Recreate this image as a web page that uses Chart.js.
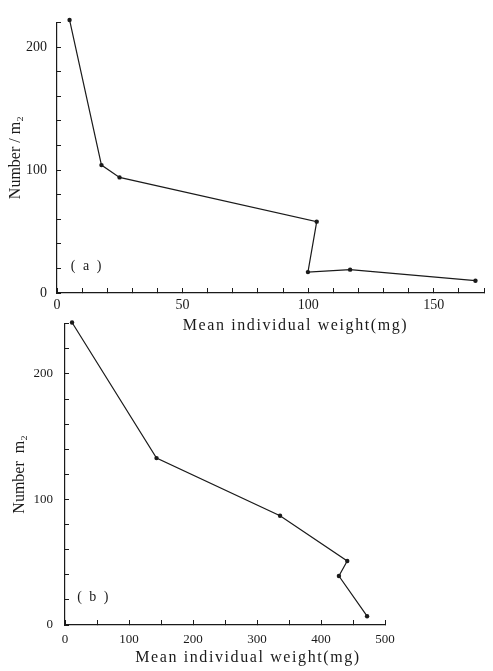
<!DOCTYPE html>
<html>
<head>
<meta charset="utf-8">
<script src="https://cdn.jsdelivr.net/npm/chart.js@4.4.1/dist/chart.umd.min.js"></script>
<style>
  html, body { margin: 0; padding: 0; background: #fff; }
  #wrap { position: relative; width: 493px; height: 671px; overflow: hidden; }
  canvas { position: absolute; left: 0; }
  #chartA { top: 0; }
  #chartB { top: 300px; }
</style>
</head>
<body>
<div id="wrap">
  <canvas id="chartA" width="493" height="340"></canvas>
  <canvas id="chartB" width="493" height="371"></canvas>
</div>
<script>
// panel (a)
const weightA = [5, 17.7, 24.9, 103.4, 99.9, 116.7, 166.6];
const numberA = [222, 104, 94, 58, 17, 19, 10];

// panel (b)
const weightB = [11, 143, 336, 441, 428, 472];
const numberB = [241, 133, 87, 51, 39, 7];

const xTitle = 'Mean individual weight(mg)';
const ink = '#1a1a1a';
const serif = 'Liberation Serif';

// draws the "(a)" / "(b)" note and the x axis title (spaced out like the print)
const panelText = {
    id: 'panelText',
    afterDraw(chart, args, opts) {
        const ctx = chart.ctx;
        const area = chart.chartArea;
        ctx.save();
        ctx.fillStyle = ink;
        ctx.textAlign = 'center';
        ctx.textBaseline = 'middle';
        ctx.font = '14px "' + serif + '"';
        ctx.letterSpacing = '2px';
        ctx.fillText(opts.tag, chart.scales.x.getPixelForValue(opts.tagX), chart.scales.y.getPixelForValue(opts.tagY));
        ctx.font = '16px "' + serif + '"';
        ctx.letterSpacing = '1.6px';
        ctx.fillText(xTitle, (area.left + area.right) / 2 + opts.shift, area.bottom + 33);
        ctx.restore();
    }
};

function createChart(canvasId, xValues, yValues, cfg) {
    const ctx = document.getElementById(canvasId).getContext('2d');
    const points = xValues.map((x, i) => ({ x: x, y: yValues[i] }));

    return new Chart(ctx, {
        type: 'scatter',
        data: {
            datasets: [{
                data: points,
                showLine: true,
                borderColor: ink,
                borderWidth: 1.2,
                pointRadius: 2.2,
                pointBackgroundColor: ink,
                pointBorderWidth: 0,
                clip: false
            }]
        },
        plugins: [panelText],
        options: {
            responsive: false,
            animation: false,
            layout: { padding: cfg.padding },
            plugins: {
                legend: { display: false },
                tooltip: { enabled: false },
                panelText: { tag: cfg.tag, tagX: cfg.tagX, tagY: cfg.tagY, shift: cfg.shift }
            },
            scales: {
                x: {
                    type: 'linear',
                    min: 0,
                    max: cfg.xMax,
                    afterFit: s => { s.height = cfg.xHeight; },
                    ticks: {
                        stepSize: cfg.xStep,
                        autoSkip: false,
                        maxRotation: 0,
                        padding: cfg.xPad,
                        color: ink,
                        font: { family: serif, size: cfg.tickSize },
                        callback: v => (v % cfg.xLabelEvery === 0 ? v : '')
                    },
                    grid: { drawOnChartArea: false, tickLength: -5, color: ink, lineWidth: 1 },
                    border: { color: ink, width: 1.2 }
                },
                y: {
                    min: 0,
                    max: cfg.yMax,
                    afterFit: s => { s.width = cfg.yWidth; },
                    ticks: {
                        stepSize: 20,
                        autoSkip: false,
                        padding: cfg.yPad,
                        color: ink,
                        font: { family: serif, size: cfg.tickSize },
                        callback: v => (v % 100 === 0 ? v : '')
                    },
                    grid: { drawOnChartArea: false, tickLength: -4, color: ink, lineWidth: 1 },
                    border: { color: ink, width: 1.2 },
                    title: {
                        display: true,
                        text: cfg.yTitle,
                        color: ink,
                        font: { family: serif, size: 16 },
                        padding: { top: cfg.yTitlePad, bottom: 0 }
                    }
                }
            }
        }
    });
}

createChart('chartA', weightA, numberA, {
    padding: { top: 13, right: 4, left: 0, bottom: 0 },
    xMax: 170, xStep: 10, xLabelEvery: 50, xHeight: 47, xPad: 9,
    yMax: 220, yWidth: 57, yPad: 14, tickSize: 14,
    yTitle: 'Number / m₂', yTitlePad: 6,
    tag: '( a )', tagX: 12, tagY: 22, shift: 25
});

createChart('chartB', weightB, numberB, {
    padding: { top: 19, right: 108, left: 0, bottom: 0 },
    xMax: 500, xStep: 50, xLabelEvery: 100, xHeight: 46, xPad: 12,
    yMax: 240, yWidth: 65, yPad: 16, tickSize: 13,
    yTitle: 'Number  m₂', yTitlePad: 10,
    tag: '( b )', tagX: 45, tagY: 22, shift: 23
});
</script>
</body>
</html>
